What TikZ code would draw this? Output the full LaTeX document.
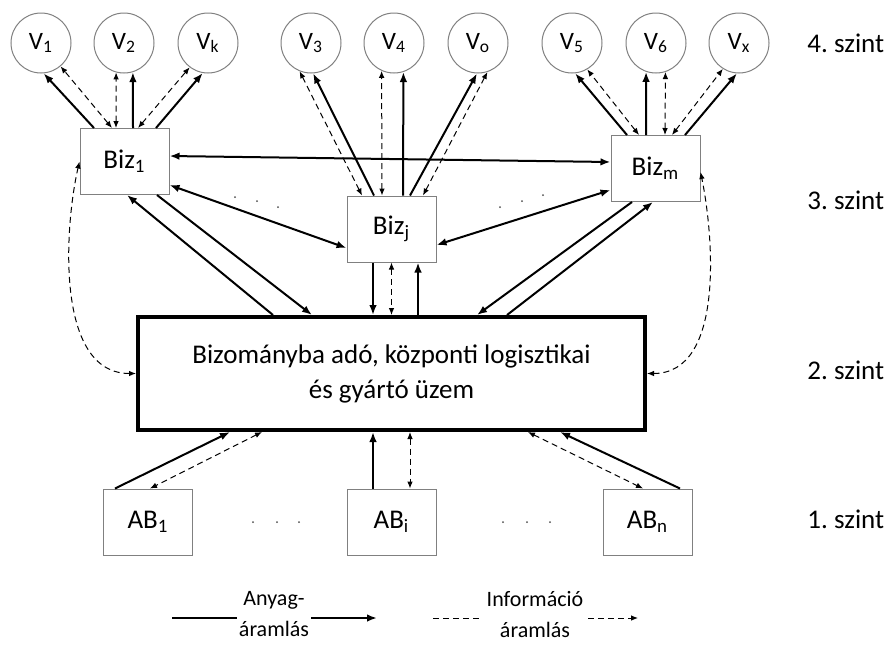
\documentclass[tikz,border=0pt]{standalone}
\usepackage{fontspec}
\setmainfont{Carlito}
\usetikzlibrary{arrows.meta}

\begin{document}
\begin{tikzpicture}[x=0.5pt, y=-0.5pt,
  every node/.style={font=\fontsize{13.5}{17.5}\selectfont},
  kor/.style={circle, draw=gray, line width=0.5pt, minimum size=30pt, inner sep=0pt,
    font=\fontsize{12.5}{14}\selectfont},
  doboz/.style={draw=gray, line width=0.5pt, minimum width=44.5pt, minimum height=33pt, inner sep=0pt},
  anyag/.style={line width=1pt, arrows={-Latex[length=5pt,width=3.8pt]}},
  oda-vissza/.style={line width=1pt, arrows={Latex[length=5pt,width=3.8pt]-Latex[length=5pt,width=3.8pt]}},
  infovonal/.style={line width=0.5pt, dash pattern=on 3pt off 2pt},
  info/.style={infovonal, arrows={Latex[length=3.5pt,width=2.8pt]-Latex[length=3.5pt,width=2.8pt]}},
  jel/.style={align=center, inner sep=0pt, font=\fontsize{11}{15.5}\selectfont}]
  \useasboundingbox (0,0) rectangle (893,644);

  \foreach \n/\x/\s in {V1/41/1,V2/124/2,Vk/208/k,V3/311/3,V4/394/4,Vo/478/o,V5/572/5,V6/656/6,Vx/739/x}
    \node[kor] (\n) at (\x,43) {V\textsubscript{\s}};

  \node[doboz] (Bz1) at (124.5,161.5) {Biz\textsubscript{1}};
  \node[doboz] (Bzj) at (391.5,229) {Biz\textsubscript{j}};
  \node[doboz] (Bzm) at (655.5,168.5) {Biz\textsubscript{m}};
  \node[draw, line width=2pt, minimum width=253.5pt, minimum height=56.5pt, align=center] (main) at (391.5,373.5)
    {Bizományba adó, központi logisztikai\\és gyártó üzem};
  \node[doboz] (AB1) at (148,522) {AB\textsubscript{1}};
  \node[doboz] (ABi) at (391.5,522) {AB\textsubscript{i}};
  \node[doboz] (ABn) at (647.5,522) {AB\textsubscript{n}};

  \foreach \s/\y in {4/43,3/200,2/370,1/519}
    \node[anchor=west, inner sep=0pt] (szint\s) at (807,\y) {\s.\ szint};

  \draw[oda-vissza] ([yshift=2.75pt]Bz1.east) -- ([yshift=3.25pt]Bzm.west);
  \draw[oda-vissza] ([yshift=-11.75pt]Bz1.east) -- ([yshift=-9.5pt]Bzj.west);
  \draw[oda-vissza] ([yshift=-10.75pt]Bzm.west) -- ([yshift=-8pt]Bzj.east);

  \foreach \b/\stil/\dx/\cel in {Bz1/anyag/-15.25/V1.-85, Bz1/info/-6.25/V1.-50, Bz1/info/-4.25/V2.-105,
      Bz1/anyag/4.25/V2.-73, Bz1/info/6.75/Vk.-127, Bz1/anyag/15.75/Vk.-100,
      Bzj/info/-14.75/V3.-112, Bzj/anyag/-8.75/V3.-86, Bzj/info/-4.75/V4.-114,
      Bzj/anyag/5.75/V4.-72, Bzj/anyag/9.25/Vo.-92, Bzj/info/15.75/Vo.-72,
      Bzm/anyag/-14.25/V5.-84, Bzm/info/-8.25/V5.-60, Bzm/anyag/-4.75/V6.-109,
      Bzm/info/4.75/V6.-72, Bzm/info/8.25/Vx.-122, Bzm/anyag/14.75/Vx.-94}
    \draw[\stil] ([xshift=\dx pt]\b.north) -- (\cel);

  \draw[anyag] ([xshift=-59.25pt]main.north) -- ([xshift=1.25pt]Bz1.south);
  \draw[anyag] ([xshift=16.25pt]Bz1.south) -- ([xshift=-39.75pt]main.north);
  \draw[anyag] ([xshift=-9.25pt]Bzj.south) -- ([xshift=-9.25pt]main.north);
  \draw[info] (Bzj.south) -- (main.north);
  \draw[anyag] ([xshift=13.25pt]main.north) -- ([xshift=13.25pt]Bzj.south);
  \draw[anyag] ([xshift=-11.75pt]Bzm.south) -- ([xshift=42.75pt]main.north);
  \draw[anyag] ([xshift=57.75pt]main.north) -- ([xshift=-1.25pt]Bzm.south);

  \draw[anyag] ([xshift=-16.5pt]AB1.north) -- ([xshift=-80.75pt]main.south);
  \draw[info] ([xshift=-64.75pt]main.south) -- ([xshift=1pt]AB1.north);
  \draw[anyag] ([xshift=-9.25pt]ABi.north) -- ([xshift=-9.25pt]main.south);
  \draw[info] ([xshift=9.25pt]main.south) -- ([xshift=9.25pt]ABi.north);
  \draw[info] ([xshift=68.25pt]main.south) -- ([xshift=-2.25pt]ABn.north);
  \draw[anyag] ([xshift=16.25pt]ABn.north) -- ([xshift=84.25pt]main.south);

  \draw[info] (main.west) .. controls +(-81,0) and +(-15,65) .. (Bz1.west);
  \draw[info] (main.east) .. controls +(78,0) and +(13,63) .. ([yshift=-1.75pt]Bzm.east);

  \foreach \x/\y in {235/197,257/201,278/207,500/207,522/201,543/195,
      253/522,277/522,299/522,503/522,527/522,550/522}
    \fill[black!70] (\x,\y) circle (1);

  \node[jel] (anyagjel) at (274,614) {Anyag-\\áramlás};
  \node[jel] (infojel) at (535,614) {Információ\\áramlás};
  \coordinate (a0) at (172,618); \coordinate (a1) at (237,618);
  \coordinate (a2) at (311,618); \coordinate (a3) at (377,618);
  \coordinate (i0) at (433,618); \coordinate (i1) at (482,618);
  \coordinate (i2) at (588,618); \coordinate (i3) at (638,618);
  \draw[line width=1pt] (a0) -- (a1);
  \draw[anyag] (a2) -- (a3);
  \draw[infovonal] (i0) -- (i1);
  \draw[infovonal, arrows={-Latex[length=3.5pt,width=2.8pt]}] (i2) -- (i3);
\end{tikzpicture}
\end{document}
